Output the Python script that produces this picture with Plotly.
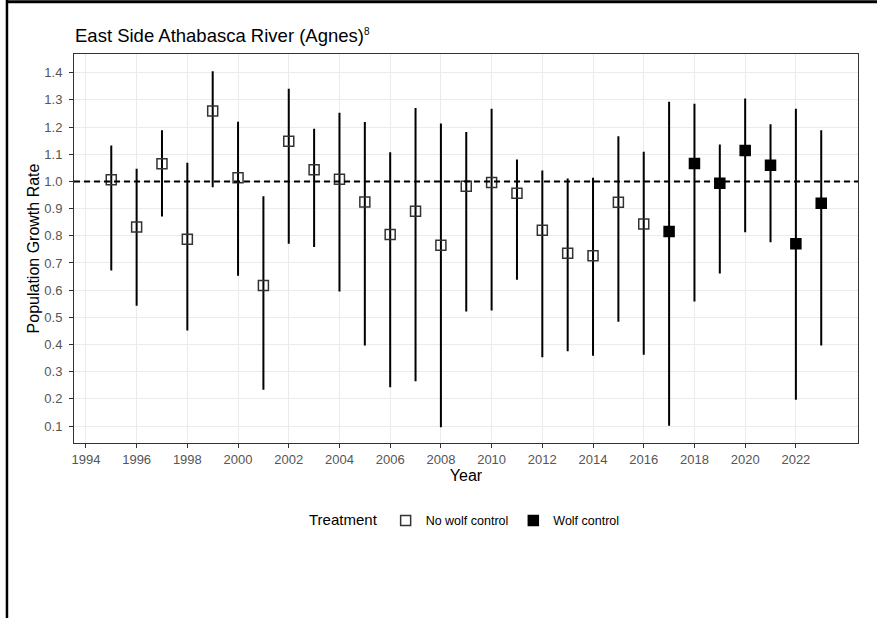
import plotly.graph_objects as go

# Annual population growth rate (lambda) with confidence limits
years = list(range(1995, 2024))
growth = [1.006, 0.832, 1.065, 0.787, 1.259, 1.014, 0.617, 1.148, 1.043, 1.008,
          0.924, 0.805, 0.890, 0.765, 0.982, 0.996, 0.957, 0.820, 0.736, 0.727,
          0.923, 0.843, 0.816, 1.066, 0.993, 1.114, 1.060, 0.771, 0.920]
upper = [1.129, 1.043, 1.185, 1.065, 1.402, 1.216, 0.942, 1.337, 1.190, 1.249,
         1.215, 1.104, 1.267, 1.210, 1.178, 1.264, 1.077, 1.037, 1.007, 1.010,
         1.163, 1.106, 1.290, 1.282, 1.132, 1.302, 1.207, 1.264, 1.185]
lower = [0.676, 0.546, 0.875, 0.455, 0.982, 0.657, 0.237, 0.774, 0.762, 0.599,
         0.400, 0.246, 0.268, 0.099, 0.525, 0.529, 0.642, 0.357, 0.379, 0.362,
         0.487, 0.366, 0.105, 0.562, 0.665, 0.817, 0.780, 0.200, 0.400]
treatment = ["No wolf control"] * 22 + ["Wolf control"] * 7

x_ticks = list(range(1994, 2023, 2))
y_ticks = [round(0.1 * i, 1) for i in range(1, 15)]

styles = {
    "No wolf control": dict(symbol="square-open", color="#333333"),
    "Wolf control": dict(symbol="square", color="#000000"),
}

fig = go.Figure()
for name, st in styles.items():
    idx = [i for i, t in enumerate(treatment) if t == name]
    fig.add_trace(go.Scatter(
        x=[years[i] for i in idx],
        y=[growth[i] for i in idx],
        mode="markers",
        name=name,
        marker=dict(symbol=st["symbol"], size=10, color=st["color"],
                    line=dict(width=1.5, color=st["color"])),
        error_y=dict(type="data", symmetric=False,
                     array=[upper[i] - growth[i] for i in idx],
                     arrayminus=[growth[i] - lower[i] for i in idx],
                     color="black", thickness=2, width=1),
    ))

# Reference line at stable growth (lambda = 1)
fig.add_hline(y=1.0, line=dict(color="black", width=2, dash="6px,4px"), layer="above")

# Outer frame lines along the top and left edges
fig.add_shape(type="line", xref="paper", yref="paper", x0=-0.0855, x1=1.03,
              y0=1.134, y1=1.134, line=dict(color="black", width=3))
fig.add_shape(type="line", xref="paper", yref="paper", x0=-0.0855, x1=-0.0855,
              y0=1.14, y1=-0.46, line=dict(color="black", width=2.5))

font_family = "Liberation Sans, Arial, sans-serif"

fig.update_layout(
    width=877, height=618,
    margin=dict(l=74, r=19, t=54, b=175),
    paper_bgcolor="white", plot_bgcolor="white",
    font=dict(family=font_family, color="black"),
    title=dict(text="East Side Athabasca River (Agnes)<sup><span style='font-size:10px'>8</span></sup>",
               x=75 / 877, xanchor="left", y=1 - 36 / 618, yanchor="middle",
               font=dict(size=18.5, color="black")),
    showlegend=True,
    legend=dict(orientation="h", x=0.5, xanchor="center", y=-0.2, yanchor="middle",
                title=dict(text="Treatment", font=dict(size=15, color="black"), side="left"),
                font=dict(size=12.5, color="black"), itemwidth=30, tracegroupgap=0),
)

fig.update_xaxes(
    range=[1993.53, 2024.45], tickmode="array", tickvals=x_ticks,
    title=dict(text="Year", font=dict(size=16, color="black"), standoff=4),
    tickfont=dict(size=13, color="#555555"),
    showgrid=True, gridcolor="#ebebeb", gridwidth=1.2,
    showline=True, linecolor="#333333", linewidth=1, mirror=True,
    ticks="outside", ticklen=4, tickcolor="#333333", zeroline=False,
)
fig.update_yaxes(
    range=[0.0375, 1.469], tickmode="array", tickvals=y_ticks,
    ticktext=[f"{v:.1f}" for v in y_ticks],
    title=dict(text="Population Growth Rate", font=dict(size=16, color="black"), standoff=0),
    tickfont=dict(size=13, color="#555555"), ticklabelstandoff=4,
    showgrid=True, gridcolor="#ebebeb", gridwidth=1.2,
    showline=True, linecolor="#333333", linewidth=1, mirror=True,
    ticks="outside", ticklen=4, tickcolor="#333333", zeroline=False,
)

fig.write_html("out.html")
